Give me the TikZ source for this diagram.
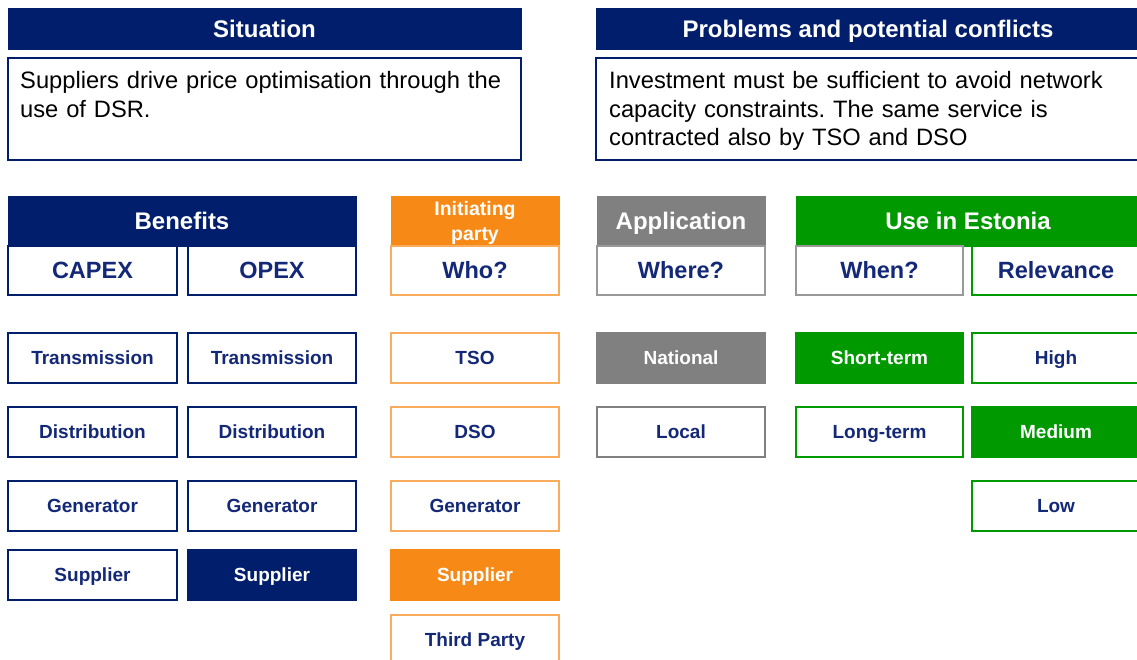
\documentclass[tikz,border=0pt]{standalone}
\usepackage{fontspec}
\setmainfont{Liberation Sans}
\frenchspacing
\definecolor{navy}{RGB}{0,30,108}
\definecolor{navytext}{RGB}{20,40,120}
\definecolor{orng}{RGB}{247,137,22}
\definecolor{gry}{RGB}{128,128,128}
\definecolor{grn}{RGB}{0,153,0}
\tikzset{
	capc/.style = {text height = #1, text depth = 0pt},
	hdr/.style = {draw = #1, fill = #1, text = white, font = \fontsize{24}{26}\selectfont\bfseries,
		minimum height = 50pt, inner sep = 0pt, line width = 1pt, capc = 17.3pt},
	cell/.style = {draw = #1, fill = white, text = navytext, font = \fontsize{19}{21}\selectfont\bfseries,
		minimum width = 168pt, minimum height = 50pt, inner sep = 0pt, line width = 1.3pt, capc = 13.7pt},
	full/.style = {draw = #1, fill = #1, text = white, font = \fontsize{19}{21}\selectfont\bfseries,
		minimum width = 168pt, minimum height = 50pt, inner sep = 0pt, line width = 1.3pt, capc = 13.7pt},
	sub/.style = {cell = #1, font = \fontsize{23.5}{25}\selectfont\bfseries, minimum height = 49pt, capc = 16.9pt},
	txtbox/.style = {draw = navy, line width = 1.4pt, fill = white, minimum height = 102pt, inner sep = 0pt},
	txt/.style = {anchor = north west, align = left, font = \fontsize{23.7}{28.8}\selectfont, inner sep = 0pt}
}
\begin{document}
\begin{tikzpicture}[x = 1pt, y = -1pt]

	\useasboundingbox (0, 0) rectangle (1137, 659);

	% Situation
	
	\node [hdr = navy, minimum width = 513pt, minimum height = 41pt] (sit) at (264.5, 28.5) {Situation};
	\node [txtbox, minimum width = 513pt] (sitbox) at (264.5, 109) {};
	\node [txt, text width = 500pt] (sittxt) at (20, 71) {Suppliers drive price optimisation through the\\use of DSR.};
	
	% Problems and potential conflicts
	
	\node [hdr = navy, minimum width = 544pt, minimum height = 41pt] (prob) at (868, 28.5) {Problems and potential conflicts};
	\node [txtbox, minimum width = 544pt] (probbox) at (868, 109) {};
	\node [txt, text width = 525pt] (probtxt) at (609, 71) {Investment must be sufficient to avoid network\\capacity constraints. The same service is\\contracted also by TSO and DSO};
	
	% Benefits
	
	\node [hdr = navy, minimum width = 348pt] (ben) at (182, 221) {Benefits};
	\node [sub = navy, minimum width = 169pt] (capex) at (92.5, 270.5) {CAPEX};
	\node [sub = navy] (opex) at (272, 270.5) {OPEX};
	
	\node [cell = navy, minimum width = 169pt] (ctrans) at (92.5, 358) {Transmission};
	\node [cell = navy, minimum width = 169pt] (cdist) at (92.5, 432) {Distribution};
	\node [cell = navy, minimum width = 169pt] (cgen) at (92.5, 506) {Generator};
	\node [cell = navy, minimum width = 169pt] (csup) at (92.5, 575) {Supplier};
	
	\node [cell = navy] (otrans) at (272, 358) {Transmission};
	\node [cell = navy] (odist) at (272, 432) {Distribution};
	\node [cell = navy] (ogen) at (272, 506) {Generator};
	\node [full = navy] (osup) at (272, 575) {Supplier};
	
	% Initiating party
	
	\node [draw = orng, fill = orng, text = white, minimum width = 168pt, minimum height = 50pt, inner sep = 0pt,
		align = center, text depth = 0pt, font = \fontsize{19.5}{25}\selectfont\bfseries] (init) at (475, 221) {Initiating\\party};
	\node [sub = orng!70] (who) at (475, 270.5) {Who?};
	
	\node [cell = orng!70] (tso) at (475, 358) {TSO};
	\node [cell = orng!70] (dso) at (475, 432) {DSO};
	\node [cell = orng!70] (igen) at (475, 506) {Generator};
	\node [full = orng] (isup) at (475, 575) {Supplier};
	\node [cell = orng!70] (third) at (475, 640) {Third Party};
	
	% Application
	
	\node [hdr = gry, minimum width = 168pt] (app) at (681, 221) {Application};
	\node [sub = gry!80] (where) at (681, 270.5) {Where?};
	
	\node [full = gry] (nat) at (681, 358) {National};
	\node [cell = gry] (loc) at (681, 432) {Local};
	
	% Use in Estonia
	
	\node [hdr = grn, minimum width = 344pt] (use) at (968, 221) {Use in Estonia};
	\node [sub = gry!80, minimum width = 167pt] (when) at (879.5, 270.5) {When?};
	\node [sub = grn] (rel) at (1056, 270.5) {Relevance};
	
	\node [full = grn, minimum width = 167pt] (short) at (879.5, 358) {Short-term};
	\node [cell = grn, minimum width = 167pt] (long) at (879.5, 432) {Long-term};
	
	\node [cell = grn] (high) at (1056, 358) {High};
	\node [full = grn] (med) at (1056, 432) {Medium};
	\node [cell = grn] (low) at (1056, 506) {Low};
	
\end{tikzpicture}
\end{document}
